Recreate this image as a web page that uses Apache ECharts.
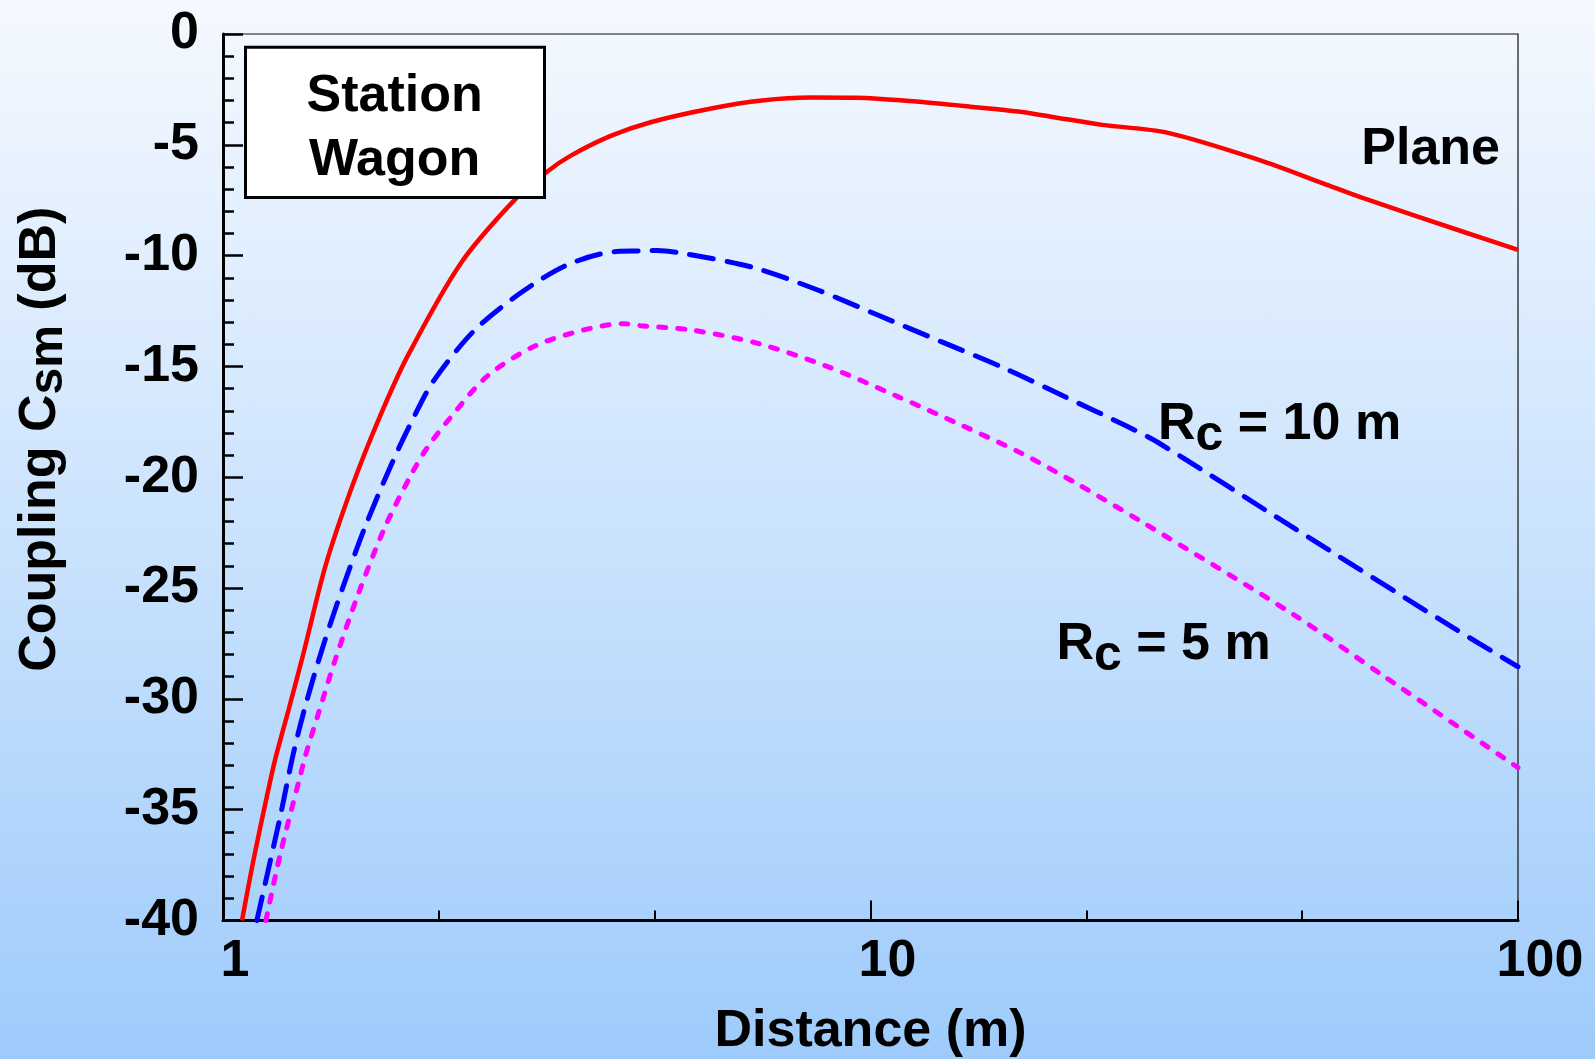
<!DOCTYPE html>
<html><head><meta charset="utf-8">
<script src="https://cdn.jsdelivr.net/npm/echarts@6/dist/echarts.min.js"></script>
<style>
html,body{margin:0;padding:0;width:1595px;height:1059px;overflow:hidden;
background:linear-gradient(to bottom,#f5f9ff 0%,#cbe3fd 50%,#9ecbfb 100%);}
#c{width:1595px;height:1059px;}
</style>
</head><body><div id="c"></div>
<script>
// ---- tick labels ----
const xTicks = [1, 10, 100];
const yTicks = [0, -5, -10, -15, -20, -25, -30, -35, -40];

// ---- Plane (red, solid) ----
const distPlane = [1.07, 1.115, 1.169, 1.204, 1.263, 1.332, 1.439, 1.583, 1.739, 1.925, 2.33, 2.83, 3.17, 3.44, 3.97, 4.59, 5.7, 6.8, 8.1, 9.5, 11.76, 14.5, 16.9, 19.0, 22.8, 28.7, 39.8, 50, 57.7, 83.6, 100];
const cplPlane  = [-40, -37.24, -34.39, -32.73, -30.48, -27.92, -24.02, -20.41, -17.4, -14.57, -10.34, -7.44, -6.2, -5.5, -4.6, -3.97, -3.35, -3.0, -2.87, -2.88, -3.05, -3.3, -3.5, -3.73, -4.10, -4.45, -5.68, -6.74, -7.41, -8.99, -9.74];

// ---- Rc = 10 m (blue, dashed) ----
const dist10 = [1.128, 1.169, 1.226, 1.285, 1.34, 1.422, 1.527, 1.659, 1.824, 1.982, 2.116, 2.44, 2.88, 3.40, 4.06, 4.41, 4.68, 5.18, 6.56, 8.27, 10.24, 12.83, 16.07, 19.9, 24.9, 28.05, 44.6, 78.7, 100];
const cpl10  = [-40, -37.99, -35.29, -32.43, -30.33, -27.77, -25.07, -22.21, -19.36, -17.15, -15.64, -13.4, -11.69, -10.42, -9.81, -9.79, -9.77, -9.92, -10.52, -11.54, -12.67, -13.87, -15.07, -16.35, -17.7, -18.5, -22.21, -26.72, -28.55];

// ---- Rc = 5 m (magenta, dotted) ----
const dist5 = [1.165, 1.226, 1.316, 1.34, 1.405, 1.491, 1.62, 1.781, 1.959, 2.066, 2.232, 2.557, 3.02, 3.61, 4.16, 4.41, 5.27, 6.68, 8.57, 11.0, 13.94, 17.05, 20.86, 26.4, 44.6, 62.1, 100];
const cpl5  = [-40, -37.0, -33.48, -32.58, -30.63, -28.22, -25.22, -22.21, -19.81, -18.68, -17.4, -15.45, -14.1, -13.35, -13.07, -13.16, -13.35, -13.95, -15.0, -16.35, -17.7, -18.9, -20.3, -22.06, -26.12, -28.98, -33.1];

// distance axis is logarithmic: the value axis runs over log10(distance)
const pairs = (xs, ys) => xs.map((x, i) => [Math.log10(x), ys[i]]);
const FONT = 'Liberation Sans';
const BOLD52 = 'bold 52px "Liberation Sans"';
const xLabelStyle = (pad) => ({fontFamily: FONT, fontWeight: 'bold', fontSize: 52, color: '#000', padding: [0, 0, 0, pad]});

const chart = echarts.init(document.getElementById('c'), null, {renderer: 'canvas'});
chart.setOption({
  backgroundColor: 'transparent',
  animation: false,
  textStyle: {fontFamily: FONT},
  grid: {left: 223, right: 77, top: 34, bottom: 138.5, containLabel: false, outerBoundsMode: 'none',
         show: true, backgroundColor: 'transparent', borderColor: '#111', borderWidth: 1.2},
  xAxis: {
    type: 'value', min: Math.log10(xTicks[0]), max: Math.log10(xTicks[xTicks.length - 1]), interval: 1,
    position: 'bottom',
    name: 'Distance (m)', nameLocation: 'middle', nameGap: 85,
    nameTextStyle: {fontFamily: FONT, fontWeight: 'bold', fontSize: 52, color: '#000'},
    axisLine: {show: true, onZero: false, lineStyle: {color: '#000', width: 3}},
    axisTick: {show: true, inside: true, length: 20, lineStyle: {color: '#000', width: 2}},
    minorTick: {show: true, splitNumber: 3, length: 10, lineStyle: {color: '#000', width: 2}},
    splitLine: {show: false}, minorSplitLine: {show: false},
    axisLabel: {show: true, margin: 15, fontFamily: FONT, fontWeight: 'bold', fontSize: 52, color: '#000',
      showMinLabel: true, showMaxLabel: true,
      formatter: v => {
        const i = xTicks.findIndex(t => Math.abs(Math.log10(t) - v) < 1e-6);
        return i < 0 ? '' : '{l' + i + '|' + xTicks[i] + '}';
      },
      rich: {l0: xLabelStyle(24), l1: xLabelStyle(34), l2: xLabelStyle(44)}}
  },
  yAxis: {
    type: 'value', min: yTicks[yTicks.length - 1], max: yTicks[0], interval: 5,
    position: 'left',
    name: 'Coupling C{sub|sm} (dB)', nameLocation: 'middle', nameGap: 150, nameRotate: 90,
    nameTextStyle: {fontFamily: FONT, fontWeight: 'bold', fontSize: 52, color: '#000',
      padding: [0, 0, 0, 76],
      rich: {sub: {fontFamily: FONT, fontWeight: 'bold', fontSize: 48, color: '#000', padding: [16, 0, 0, 0]}}},
    axisLine: {show: true, onZero: false, lineStyle: {color: '#000', width: 3}},
    axisTick: {show: true, inside: true, length: 20, lineStyle: {color: '#000', width: 2.5}},
    minorTick: {show: true, splitNumber: 5, length: 11, lineStyle: {color: '#000', width: 2.5}},
    splitLine: {show: false},
    axisLabel: {show: true, margin: 24, fontFamily: FONT, fontWeight: 'bold', fontSize: 52, color: '#000',
      padding: [0, 0, 15, 0], showMinLabel: true, showMaxLabel: true}
  },
  series: [{
    name: 'Plane', type: 'line', data: pairs(distPlane, cplPlane), showSymbol: false, smooth: 0.3,
    lineStyle: {color: '#ff0000', width: 4.5}, z: 3
  }, {
    name: 'Rc = 10 m', type: 'line', data: pairs(dist10, cpl10), showSymbol: false, smooth: 0.3,
    lineStyle: {color: '#0000ff', width: 5, type: [24, 14], cap: 'round'}, z: 2
  }, {
    name: 'Rc = 5 m', type: 'line', data: pairs(dist5, cpl5), showSymbol: false, smooth: 0.3,
    lineStyle: {color: '#ff00ff', width: 5, type: [7, 12], cap: 'round'}, z: 2
  }],
  graphic: [{
    type: 'rect', z: 100, shape: {x: 245.5, y: 47.2, width: 299, height: 150.3},
    style: {fill: '#ffffff', stroke: '#000', lineWidth: 3}
  }, {
    type: 'text', z: 101, x: 394.6, y: 128.5,
    style: {text: 'Station\nWagon', font: BOLD52, fill: '#000',
      textAlign: 'center', textVerticalAlign: 'middle', lineHeight: 64}
  }, {
    type: 'text', z: 101, x: 1500, y: 149.5,
    style: {text: 'Plane', font: BOLD52, fill: '#000', textAlign: 'right', textVerticalAlign: 'middle'}
  }, {
    type: 'text', z: 101, x: 1158, y: 429,
    style: {text: '{n|R}{s|c}{n| = 10 m}', textAlign: 'left', textVerticalAlign: 'middle',
      rich: {n: {font: BOLD52, fill: '#000', lineHeight: 60, verticalAlign: 'top'},
             s: {font: 'bold 50px "Liberation Sans"', fill: '#000', lineHeight: 58, padding: [12, 0, 0, 0], verticalAlign: 'top'}}}
  }, {
    type: 'text', z: 101, x: 1056.5, y: 649,
    style: {text: '{n|R}{s|c}{n| = 5 m}', textAlign: 'left', textVerticalAlign: 'middle',
      rich: {n: {font: BOLD52, fill: '#000', lineHeight: 60, verticalAlign: 'top'},
             s: {font: 'bold 50px "Liberation Sans"', fill: '#000', lineHeight: 58, padding: [12, 0, 0, 0], verticalAlign: 'top'}}}
  }]
});
</script></body></html>
